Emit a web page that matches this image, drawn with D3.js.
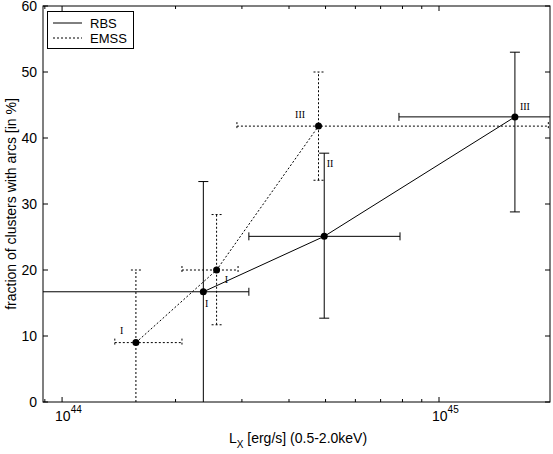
<!DOCTYPE html>
<html lang="en">
<head>
<meta charset="UTF-8">
<title>Arc fraction vs Lx</title>
<script src="https://d3js.org/d3.v7.min.js"></script>
<style>
  body { margin: 0; background: #fff; }
  text { font-family: "Liberation Sans", Arial, sans-serif; fill: #000; }
</style>
</head>
<body>
<script>
// luminosity bins (erg/s) and arc fractions (%)
var rbsX    = [2.37e44, 4.96e44, 1.59e45];
var rbsXlo  = [8.0e43, 3.13e44, 7.83e44];
var rbsXhi  = [3.13e44, 7.88e44, 2.6e45];
var rbsY    = [16.7, 25.1, 43.2];
var rbsYlo  = [0, 12.7, 28.8];
var rbsYhi  = [33.4, 37.7, 53.0];

var emssX   = [1.57e44, 2.57e44, 4.79e44];
var emssXlo = [1.38e44, 2.08e44, 2.91e44];
var emssXhi = [2.08e44, 2.93e44, 1.95e45];
var emssY   = [9.0, 20.0, 41.8];
var emssYlo = [0, 11.7, 33.6];
var emssYhi = [20.0, 28.4, 50.0];

// small roman-numeral annotations
var noteText = ['I', 'I', 'I', 'III', 'II', 'III'];
var noteX    = [1.44e44, 2.42e44, 2.73e44, 4.28e44, 5.14e44, 1.69e45];
var noteY    = [10.9, 15.0, 18.5, 43.6, 36.2, 44.8];

var yTicks = [0, 10, 20, 30, 40, 50, 60];
var xMajor = [1e44, 1e45];
var xMajorExp = ['44', '45'];

var width = 553, height = 454;
var pLeft = 43, pRight = 550, pTop = 6, pBottom = 402;

var x = d3.scaleLog().domain([8.9e43, 1.97e45]).range([pLeft, pRight]);
var y = d3.scaleLinear().domain([0, 60]).range([pBottom, pTop]);

var svg = d3.select('body').append('svg')
  .attr('width', width).attr('height', height);

svg.append('clipPath').attr('id', 'clip')
  .append('rect').attr('x', pLeft).attr('y', pTop)
  .attr('width', pRight - pLeft).attr('height', pBottom - pTop);

var plot = svg.append('g').attr('clip-path', 'url(#clip)');

function drawSeries(xs, xlo, xhi, ys, ylo, yhi, dash) {
  var pts = xs.map(function(d, i) {
    return {x: d, xlo: xlo[i], xhi: xhi[i], y: ys[i], ylo: ylo[i], yhi: yhi[i]};
  });
  var g = plot.append('g')
    .attr('stroke', '#000').attr('stroke-width', 1).attr('fill', 'none')
    .attr('stroke-dasharray', dash);

  // connecting line
  g.append('path').datum(pts)
    .attr('d', d3.line().x(function(d) { return x(d.x); }).y(function(d) { return y(d.y); }));

  pts.forEach(function(d) {
    // vertical error bars
    var cx = x(d.x);
    g.append('line').attr('x1', cx).attr('x2', cx).attr('y1', y(d.ylo)).attr('y2', y(d.yhi));
    [d.ylo, d.yhi].forEach(function(v) {
      if (v > 0) g.append('line').attr('x1', cx - 5).attr('x2', cx + 5).attr('y1', y(v)).attr('y2', y(v));
    });
    // horizontal error bars
    var cy = y(d.y);
    g.append('line').attr('x1', x(d.xlo)).attr('x2', x(d.xhi)).attr('y1', cy).attr('y2', cy);
    [d.xlo, d.xhi].forEach(function(v) {
      g.append('line').attr('x1', x(v)).attr('x2', x(v)).attr('y1', cy - 4).attr('y2', cy + 4);
    });
  });

  plot.append('g').selectAll('circle').data(pts).enter().append('circle')
    .attr('cx', function(d) { return x(d.x); })
    .attr('cy', function(d) { return y(d.y); })
    .attr('r', 3.5).attr('fill', '#000');
}

drawSeries(rbsX, rbsXlo, rbsXhi, rbsY, rbsYlo, rbsYhi, null);
drawSeries(emssX, emssXlo, emssXhi, emssY, emssYlo, emssYhi, '2,2');

// annotations
svg.append('g').selectAll('text').data(noteText).enter().append('text')
  .attr('x', function(d, i) { return x(noteX[i]); })
  .attr('y', function(d, i) { return y(noteY[i]); })
  .attr('dy', '0.35em')
  .attr('text-anchor', 'middle')
  .style('font-family', '"Liberation Serif", serif')
  .style('font-size', '10px')
  .text(function(d) { return d; });

// axes box
var ax = svg.append('g').attr('stroke', '#000').attr('stroke-width', 1);
ax.append('rect').attr('x', pLeft).attr('y', pTop)
  .attr('width', pRight - pLeft).attr('height', pBottom - pTop).attr('fill', 'none');

// y ticks, inward on both sides
yTicks.forEach(function(t) {
  ax.append('line').attr('x1', pLeft).attr('x2', pLeft + 5).attr('y1', y(t)).attr('y2', y(t));
  ax.append('line').attr('x1', pRight).attr('x2', pRight - 5).attr('y1', y(t)).attr('y2', y(t));
});
svg.append('g').selectAll('text').data(yTicks).enter().append('text')
  .attr('x', pLeft - 6).attr('y', function(d) { return y(d); })
  .attr('dy', '0.35em').attr('text-anchor', 'end')
  .style('font-size', '14px')
  .text(function(d) { return d; });

// x ticks on log scale, major and minor
x.ticks().forEach(function(t) {
  var len = xMajor.indexOf(t) >= 0 ? 5 : 3;
  ax.append('line').attr('x1', x(t)).attr('x2', x(t)).attr('y1', pBottom).attr('y2', pBottom - len);
  ax.append('line').attr('x1', x(t)).attr('x2', x(t)).attr('y1', pTop).attr('y2', pTop + len);
});
xMajor.forEach(function(t, i) {
  var lbl = svg.append('text').attr('x', x(t) - 7).attr('y', 421)
    .style('font-size', '14px');
  lbl.append('tspan').text('10');
  lbl.append('tspan').attr('dy', -8).style('font-size', '10px').text(xMajorExp[i]);
});

// axis labels
var xl = svg.append('text').attr('x', 298).attr('y', 443)
  .attr('text-anchor', 'middle').style('font-size', '14px');
xl.append('tspan').text('L');
xl.append('tspan').attr('dy', 5).style('font-size', '10px').text('X');
xl.append('tspan').attr('dy', -5).text(' [erg/s] (0.5-2.0keV)');

svg.append('text')
  .attr('transform', 'translate(16,' + ((pTop + pBottom) / 2) + ') rotate(-90)')
  .attr('text-anchor', 'middle').style('font-size', '14px')
  .text('fraction of clusters with arcs [in %]');

// legend
var leg = svg.append('g');
leg.append('rect').attr('x', 47.5).attr('y', 11.5).attr('width', 86).attr('height', 37)
  .attr('fill', '#fff').attr('stroke', '#000');
var legNames = ['RBS', 'EMSS'];
var legDash = [null, '2,2'];
legNames.forEach(function(n, i) {
  var ly = 23 + i * 15;
  leg.append('line').attr('x1', 53).attr('x2', 82).attr('y1', ly).attr('y2', ly)
    .attr('stroke', '#000').attr('stroke-dasharray', legDash[i]);
  leg.append('text').attr('x', 90).attr('y', ly).attr('dy', '0.35em')
    .style('font-size', '13px').text(n);
});
</script>
</body>
</html>
